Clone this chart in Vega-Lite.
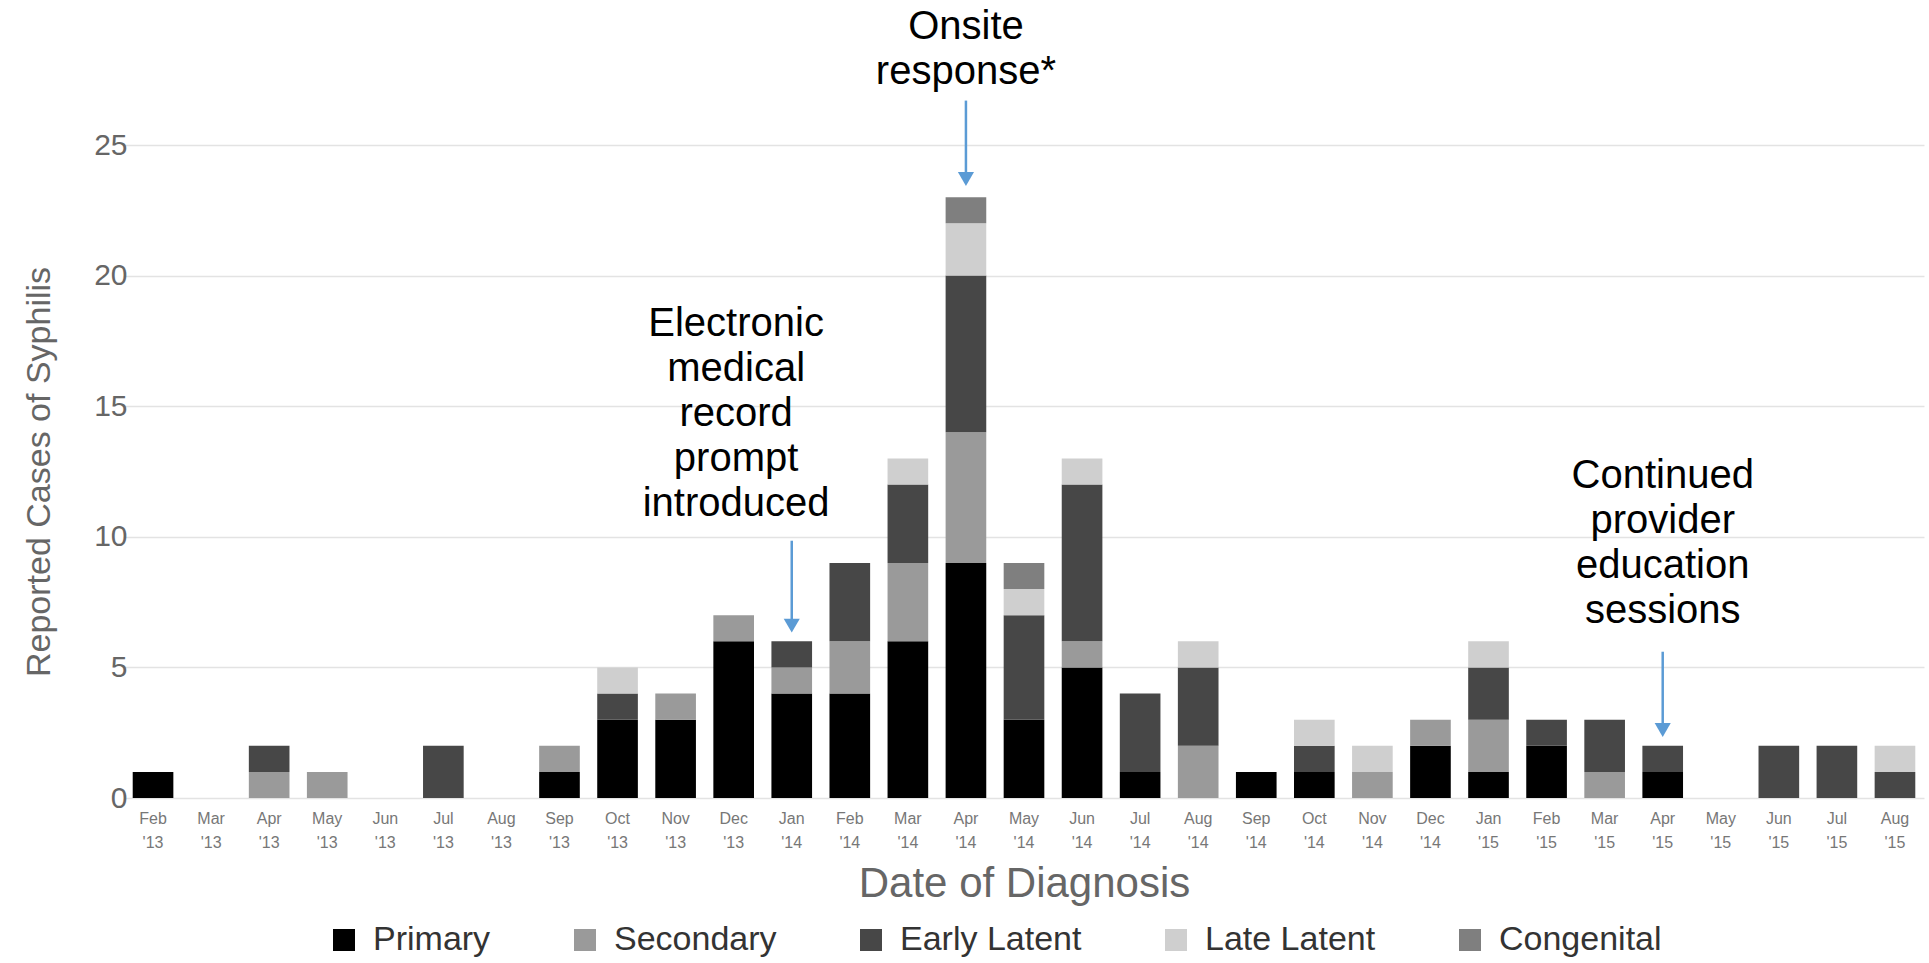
{
  "$schema": "https://vega.github.io/schema/vega-lite/v6.json",
  "autosize": {"type": "none"},
  "width": 1800,
  "height": 653,
  "padding": {"left": 124, "top": 145, "right": 5, "bottom": 165},
  "background": "white",
  "config": {
    "font": "Liberation Sans",
    "view": {"stroke": null}
  },
  "layer": [
    {
      "data": {"values": [
        {"m": "Feb '13", "t": "Primary", "o": 1, "n": 1},
        {"m": "Apr '13", "t": "Secondary", "o": 2, "n": 1},
        {"m": "Apr '13", "t": "Early Latent", "o": 3, "n": 1},
        {"m": "May '13", "t": "Secondary", "o": 2, "n": 1},
        {"m": "Jul '13", "t": "Early Latent", "o": 3, "n": 2},
        {"m": "Sep '13", "t": "Primary", "o": 1, "n": 1},
        {"m": "Sep '13", "t": "Secondary", "o": 2, "n": 1},
        {"m": "Oct '13", "t": "Primary", "o": 1, "n": 3},
        {"m": "Oct '13", "t": "Early Latent", "o": 3, "n": 1},
        {"m": "Oct '13", "t": "Late Latent", "o": 4, "n": 1},
        {"m": "Nov '13", "t": "Primary", "o": 1, "n": 3},
        {"m": "Nov '13", "t": "Secondary", "o": 2, "n": 1},
        {"m": "Dec '13", "t": "Primary", "o": 1, "n": 6},
        {"m": "Dec '13", "t": "Secondary", "o": 2, "n": 1},
        {"m": "Jan '14", "t": "Primary", "o": 1, "n": 4},
        {"m": "Jan '14", "t": "Secondary", "o": 2, "n": 1},
        {"m": "Jan '14", "t": "Early Latent", "o": 3, "n": 1},
        {"m": "Feb '14", "t": "Primary", "o": 1, "n": 4},
        {"m": "Feb '14", "t": "Secondary", "o": 2, "n": 2},
        {"m": "Feb '14", "t": "Early Latent", "o": 3, "n": 3},
        {"m": "Mar '14", "t": "Primary", "o": 1, "n": 6},
        {"m": "Mar '14", "t": "Secondary", "o": 2, "n": 3},
        {"m": "Mar '14", "t": "Early Latent", "o": 3, "n": 3},
        {"m": "Mar '14", "t": "Late Latent", "o": 4, "n": 1},
        {"m": "Apr '14", "t": "Primary", "o": 1, "n": 9},
        {"m": "Apr '14", "t": "Secondary", "o": 2, "n": 5},
        {"m": "Apr '14", "t": "Early Latent", "o": 3, "n": 6},
        {"m": "Apr '14", "t": "Late Latent", "o": 4, "n": 2},
        {"m": "Apr '14", "t": "Congenital", "o": 5, "n": 1},
        {"m": "May '14", "t": "Primary", "o": 1, "n": 3},
        {"m": "May '14", "t": "Early Latent", "o": 3, "n": 4},
        {"m": "May '14", "t": "Late Latent", "o": 4, "n": 1},
        {"m": "May '14", "t": "Congenital", "o": 5, "n": 1},
        {"m": "Jun '14", "t": "Primary", "o": 1, "n": 5},
        {"m": "Jun '14", "t": "Secondary", "o": 2, "n": 1},
        {"m": "Jun '14", "t": "Early Latent", "o": 3, "n": 6},
        {"m": "Jun '14", "t": "Late Latent", "o": 4, "n": 1},
        {"m": "Jul '14", "t": "Primary", "o": 1, "n": 1},
        {"m": "Jul '14", "t": "Early Latent", "o": 3, "n": 3},
        {"m": "Aug '14", "t": "Secondary", "o": 2, "n": 2},
        {"m": "Aug '14", "t": "Early Latent", "o": 3, "n": 3},
        {"m": "Aug '14", "t": "Late Latent", "o": 4, "n": 1},
        {"m": "Sep '14", "t": "Primary", "o": 1, "n": 1},
        {"m": "Oct '14", "t": "Primary", "o": 1, "n": 1},
        {"m": "Oct '14", "t": "Early Latent", "o": 3, "n": 1},
        {"m": "Oct '14", "t": "Late Latent", "o": 4, "n": 1},
        {"m": "Nov '14", "t": "Secondary", "o": 2, "n": 1},
        {"m": "Nov '14", "t": "Late Latent", "o": 4, "n": 1},
        {"m": "Dec '14", "t": "Primary", "o": 1, "n": 2},
        {"m": "Dec '14", "t": "Secondary", "o": 2, "n": 1},
        {"m": "Jan '15", "t": "Primary", "o": 1, "n": 1},
        {"m": "Jan '15", "t": "Secondary", "o": 2, "n": 2},
        {"m": "Jan '15", "t": "Early Latent", "o": 3, "n": 2},
        {"m": "Jan '15", "t": "Late Latent", "o": 4, "n": 1},
        {"m": "Feb '15", "t": "Primary", "o": 1, "n": 2},
        {"m": "Feb '15", "t": "Early Latent", "o": 3, "n": 1},
        {"m": "Mar '15", "t": "Secondary", "o": 2, "n": 1},
        {"m": "Mar '15", "t": "Early Latent", "o": 3, "n": 2},
        {"m": "Apr '15", "t": "Primary", "o": 1, "n": 1},
        {"m": "Apr '15", "t": "Early Latent", "o": 3, "n": 1},
        {"m": "Jun '15", "t": "Early Latent", "o": 3, "n": 2},
        {"m": "Jul '15", "t": "Early Latent", "o": 3, "n": 2},
        {"m": "Aug '15", "t": "Early Latent", "o": 3, "n": 1},
        {"m": "Aug '15", "t": "Late Latent", "o": 4, "n": 1}
      ]},
      "mark": {"type": "bar"},
      "encoding": {
        "x": {
          "field": "m", "type": "nominal",
          "scale": {
            "domain": ["Feb '13","Mar '13","Apr '13","May '13","Jun '13","Jul '13","Aug '13","Sep '13","Oct '13","Nov '13","Dec '13","Jan '14","Feb '14","Mar '14","Apr '14","May '14","Jun '14","Jul '14","Aug '14","Sep '14","Oct '14","Nov '14","Dec '14","Jan '15","Feb '15","Mar '15","Apr '15","May '15","Jun '15","Jul '15","Aug '15"],
            "paddingInner": 0.3, "paddingOuter": 0.15
          },
          "axis": {
            "title": "Date of Diagnosis",
            "titleFontSize": 42, "titleFontWeight": "normal", "titleColor": "#666666",
            "titleY": 85, "titleBaseline": "middle",
            "labelExpr": "split(datum.value, ' ')",
            "labelAngle": 0, "labelFontSize": 16, "labelColor": "#777777",
            "labelLineHeight": 24, "labelPadding": 12,
            "ticks": false, "domain": false, "grid": false
          }
        },
        "y": {
          "field": "n", "type": "quantitative", "aggregate": "sum", "stack": "zero",
          "scale": {"domain": [0, 25], "nice": false},
          "axis": {
            "title": "Reported Cases of Syphilis",
            "titleFontSize": 34, "titleFontWeight": "normal", "titleColor": "#666666",
            "titleX": -85, "titleBaseline": "middle",
            "values": [0, 5, 10, 15, 20, 25],
            "labelFontSize": 30, "labelColor": "#666666", "labelPadding": -3,
            "ticks": false, "domain": false,
            "grid": true, "gridColor": "#e3e3e3", "gridWidth": 1.5
          }
        },
        "color": {
          "field": "t", "type": "nominal",
          "scale": {
            "domain": ["Primary", "Secondary", "Early Latent", "Late Latent", "Congenital"],
            "range": ["#000000", "#9a9a9a", "#474747", "#cfcfcf", "#7f7f7f"]
          },
          "legend": {
            "title": null, "orient": "none", "direction": "horizontal", "columns": 5,
            "legendX": 203, "legendY": 778,
            "symbolType": "square", "symbolSize": 484, "symbolStrokeWidth": 0, "symbolOpacity": 1,
            "labelFontSize": 34, "labelColor": "#333333", "labelOffset": 12, "labelLimit": 0,
            "columnPadding": 77
          }
        },
        "order": {"field": "o", "type": "quantitative"}
      }
    },
    {
      "data": {"values": [
        {"m": "Jan '14", "y1": 9.85, "y2": 6.8},
        {"m": "Apr '14", "y1": 26.7, "y2": 23.9},
        {"m": "Apr '15", "y1": 5.6, "y2": 2.8}
      ]},
      "mark": {"type": "rule", "color": "#5b9bd5", "strokeWidth": 2.5},
      "encoding": {
        "x": {"field": "m", "type": "nominal"},
        "y": {"field": "y1", "type": "quantitative"},
        "y2": {"field": "y2"}
      }
    },
    {
      "data": {"values": [
        {"m": "Jan '14", "y": 6.6},
        {"m": "Apr '14", "y": 23.7},
        {"m": "Apr '15", "y": 2.6}
      ]},
      "mark": {"type": "point", "shape": "triangle-down", "filled": true, "color": "#5b9bd5", "size": 260, "opacity": 1},
      "encoding": {
        "x": {"field": "m", "type": "nominal"},
        "y": {"field": "y", "type": "quantitative"}
      }
    },
    {
      "data": {"values": [
        {"m": "Apr '14", "y": 30.3, "label": "Onsite\nresponse*"},
        {"m": "Apr '15", "y": 13.1, "label": "Continued\nprovider\neducation\nsessions"}
      ]},
      "mark": {"type": "text", "fontSize": 40, "color": "#000000", "align": "center", "baseline": "top", "lineBreak": "\n", "lineHeight": 45},
      "encoding": {
        "x": {"field": "m", "type": "nominal"},
        "y": {"field": "y", "type": "quantitative"},
        "text": {"field": "label"}
      }
    },
    {
      "data": {"values": [
        {"m": "Dec '13", "y": 18.9, "label": "Electronic\nmedical\nrecord\nprompt\nintroduced"}
      ]},
      "mark": {"type": "text", "fontSize": 40, "color": "#000000", "align": "center", "baseline": "top", "lineBreak": "\n", "lineHeight": 45},
      "encoding": {
        "x": {"field": "m", "type": "nominal", "bandPosition": 0.56},
        "y": {"field": "y", "type": "quantitative"},
        "text": {"field": "label"}
      }
    }
  ]
}
